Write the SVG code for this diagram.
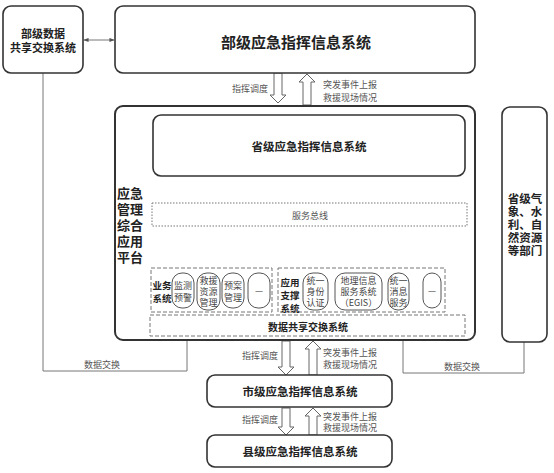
<svg xmlns="http://www.w3.org/2000/svg" width="554" height="473" viewBox="0 0 554 473">
<defs>
<style>
text{font-family:"Noto Sans CJK SC","Liberation Sans",sans-serif;dominant-baseline:central;text-anchor:middle}
.box{fill:#fff;stroke:#333;stroke-width:1.6}
.title{font-weight:bold;fill:#222}
.lbl{font-size:9px;fill:#555}
.dot{fill:none;stroke:#777;stroke-width:1;stroke-dasharray:1.5 1.5}
.dash{fill:none;stroke:#777;stroke-width:1;stroke-dasharray:4 2}
.pill{fill:#fff;stroke:#555;stroke-width:1}
.pt{font-size:9px;fill:#444}
.ln{fill:none;stroke:#777;stroke-width:1}
.hollow{fill:#fff;stroke:#666;stroke-width:1}
</style>
<marker id="ah" viewBox="0 0 6 6" refX="5.5" refY="3" markerWidth="5" markerHeight="5" orient="auto-start-reverse">
<path d="M0,0.5 L6,3 L0,5.5 Z" fill="#555"/>
</marker>
</defs>
<rect width="554" height="473" fill="#fff"/>

<g id="connectors">
<line class="ln" x1="84" y1="40" x2="114" y2="40" marker-start="url(#ah)" marker-end="url(#ah)"/>
<polyline class="ln" points="43,73 43,371 187,371 187,340"/>
<polyline class="ln" points="403,340 403,373 524,373 524,342"/>
<path class="hollow" d="M274,73 L282,73 L282,95 L286,95 L278,103 L270,95 L274,95 Z"/>
<path class="hollow" d="M303,105 L303,82 L299,82 L307,74 L315,82 L311,82 L311,105 Z"/>
<path class="hollow" d="M282,341 L290,341 L290,367 L294,367 L286,375 L278,367 L282,367 Z"/>
<path class="hollow" d="M309,375 L309,349 L305,349 L313,341 L321,349 L317,349 L317,375 Z"/>
<path class="hollow" d="M282,408 L290,408 L290,427 L294,427 L286,435 L278,427 L282,427 Z"/>
<path class="hollow" d="M309,435 L309,416 L305,416 L313,408 L321,416 L317,416 L317,435 Z"/>
<line class="ln" x1="309" y1="203" x2="309" y2="177" marker-end="url(#ah)"/>
<line class="ln" x1="183" y1="273" x2="183" y2="227" marker-end="url(#ah)"/>
<line class="ln" x1="208" y1="273" x2="208" y2="227" marker-end="url(#ah)"/>
<line class="ln" x1="234" y1="273" x2="234" y2="227" marker-end="url(#ah)"/>
<line class="ln" x1="306" y1="273" x2="306" y2="227" marker-end="url(#ah)"/>
<line class="ln" x1="344" y1="273" x2="344" y2="227" marker-end="url(#ah)"/>
<line class="ln" x1="403" y1="273" x2="403" y2="227" marker-end="url(#ah)"/>
<line class="ln" x1="455" y1="315" x2="455" y2="227" marker-end="url(#ah)"/>
<text class="lbl" x="102" y="364">数据交换</text>
<text class="lbl" x="462" y="366">数据交换</text>
<text class="lbl" x="250" y="88">指挥调度</text>
<text class="lbl" x="350" y="84">突发事件上报</text>
<text class="lbl" x="350" y="97">救援现场情况</text>
<text class="lbl" x="335" y="192">服务调用</text>
<text class="lbl" x="260" y="355">指挥调度</text>
<text class="lbl" x="350" y="352">突发事件上报</text>
<text class="lbl" x="350" y="364">救援现场情况</text>
<text class="lbl" x="260" y="419">指挥调度</text>
<text class="lbl" x="350" y="416">突发事件上报</text>
<text class="lbl" x="350" y="427">救援现场情况</text>
<g class="lbl" style="font-size:9.5px">
<text x="195" y="242">预警</text><text x="195" y="254">信息</text>
<text x="221" y="242">资源</text><text x="221" y="254">信息</text>
<text x="247" y="242">预案</text><text x="247" y="254">信息</text>
<text x="327" y="243">单点登录</text><text x="327" y="255">身份认证</text>
<text x="374" y="242">空间数据库</text><text x="375" y="253">专题图层数据</text><text x="371" y="264">EGIS服务</text>
<text x="414" y="242">消息</text><text x="414" y="253">收发</text><text x="414" y="264">支持</text>
</g>
<g class="lbl" style="font-size:7.5px">
<text x="466" y="240">数据</text><text x="466" y="249">资源</text><text x="466" y="258">支撑</text>
</g>
</g>

<g id="ministry-data">
<rect class="box" x="3" y="6" width="80" height="67" rx="8"/>
<text class="title" x="43" y="33" font-size="11">部级数据</text>
<text class="title" x="43" y="47" font-size="11">共享交换系统</text>
</g>

<g id="ministry-system">
<rect class="box" x="115" y="6" width="360" height="67" rx="8"/>
<text class="title" x="296" y="41" font-size="15">部级应急指挥信息系统</text>
</g>

<g id="platform">
<rect class="box" x="115" y="106" width="360" height="234" rx="8" style="stroke-width:2"/>
<g class="title" font-size="13">
<text x="130" y="192">应急</text>
<text x="130" y="208">管理</text>
<text x="130" y="224">综合</text>
<text x="130" y="240">应用</text>
<text x="130" y="256">平台</text>
</g>
</g>

<g id="province-system">
<rect class="box" x="153" y="115" width="312" height="61" rx="8"/>
<text class="title" x="309" y="146" font-size="11.5">省级应急指挥信息系统</text>
</g>

<g id="service-bus">
<rect class="dot" x="152" y="203" width="315" height="23"/>
<text class="lbl" x="310" y="215">服务总线</text>
</g>

<g id="business-system">
<rect class="dash" x="151" y="268" width="121" height="44"/>
<text class="title" x="162" y="285" font-size="9.5">业务</text>
<text class="title" x="162" y="298" font-size="9.5">系统</text>
</g>
<g id="monitor-warning">
<rect class="pill" x="172" y="273" width="22" height="35" rx="10"/>
<text class="pt" x="183" y="285">监测</text><text class="pt" x="183" y="297">预警</text>
</g>
<g id="rescue-resource">
<rect class="pill" x="197" y="273" width="23" height="37" rx="10"/>
<text class="pt" x="208.5" y="280">救援</text><text class="pt" x="208.5" y="291">资源</text><text class="pt" x="208.5" y="302">管理</text>
</g>
<g id="plan-management">
<rect class="pill" x="222" y="273" width="22" height="35" rx="10"/>
<text class="pt" x="233" y="285">预案</text><text class="pt" x="233" y="297">管理</text>
</g>
<g id="business-more">
<rect class="pill" x="248" y="273" width="22" height="35" rx="10"/>
<text class="pt" x="259" y="290">—</text>
</g>

<g id="support-system">
<rect class="dash" x="278" y="268" width="167" height="44"/>
<text class="title" x="290" y="282" font-size="9.5">应用</text>
<text class="title" x="290" y="295" font-size="9.5">支撑</text>
<text class="title" x="290" y="308" font-size="9.5">系统</text>
</g>
<g id="unified-identity">
<rect class="pill" x="303" y="273" width="25" height="37" rx="10"/>
<text class="pt" x="315.5" y="280">统一</text><text class="pt" x="315.5" y="291">身份</text><text class="pt" x="315.5" y="302">认证</text>
</g>
<g id="egis">
<rect class="pill" x="335" y="273" width="47" height="37" rx="10"/>
<text class="pt" x="358.5" y="280">地理信息</text><text class="pt" x="358.5" y="291">服务系统</text><text class="pt" x="358.5" y="302">（EGIS）</text>
</g>
<g id="unified-message">
<rect class="pill" x="388" y="273" width="21" height="37" rx="10"/>
<text class="pt" x="398.5" y="280">统一</text><text class="pt" x="398.5" y="291">消息</text><text class="pt" x="398.5" y="302">服务</text>
</g>
<g id="support-more">
<rect class="pill" x="423" y="273" width="18" height="35" rx="9"/>
<text class="pt" x="432" y="290">—</text>
</g>

<g id="data-share">
<rect class="dash" x="150" y="315" width="315" height="21"/>
<text class="title" x="308" y="326" font-size="10">数据共享交换系统</text>
</g>

<g id="province-departments">
<rect class="box" x="502" y="107" width="45" height="235" rx="8"/>
<text class="title" x="525" y="198" font-size="11.5">省级气</text>
<text class="title" x="525" y="211" font-size="11.5">象、水</text>
<text class="title" x="525" y="224" font-size="11.5">利、自</text>
<text class="title" x="525" y="237" font-size="11.5">然资源</text>
<text class="title" x="525" y="250" font-size="11.5">等部门</text>
</g>

<g id="city-system">
<rect class="box" x="207" y="375" width="185" height="32" rx="8"/>
<text class="title" x="300" y="391" font-size="11.5">市级应急指挥信息系统</text>
</g>

<g id="county-system">
<rect class="box" x="207" y="435" width="185" height="32" rx="8"/>
<text class="title" x="300" y="451" font-size="11.5">县级应急指挥信息系统</text>
</g>
</svg>
